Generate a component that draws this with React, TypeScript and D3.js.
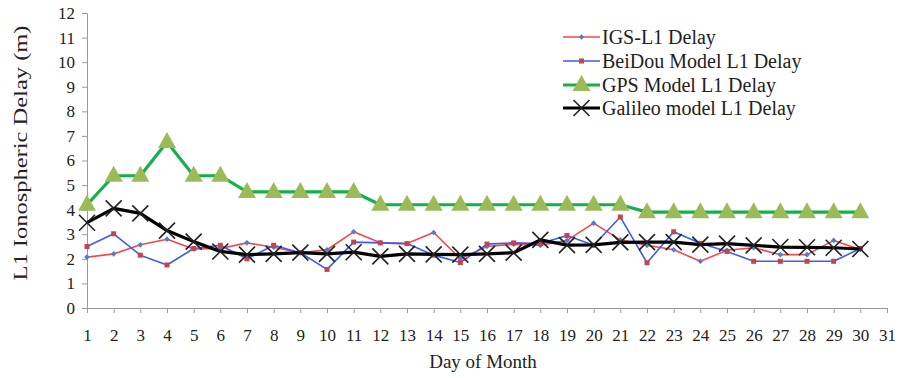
import React, { useRef, useEffect } from 'react'
import * as d3 from 'd3'

const days = [1, 2, 3, 4, 5, 6, 7, 8, 9, 10, 11, 12, 13, 14, 15, 16, 17, 18, 19, 20, 21, 22, 23, 24, 25, 26, 27, 28, 29, 30]
const xTicks = [1, 2, 3, 4, 5, 6, 7, 8, 9, 10, 11, 12, 13, 14, 15, 16, 17, 18, 19, 20, 21, 22, 23, 24, 25, 26, 27, 28, 29, 30, 31]
const yTicks = [0, 1, 2, 3, 4, 5, 6, 7, 8, 9, 10, 11, 12]

const igs = [2.07, 2.2, 2.57, 2.8, 2.4, 2.42, 2.65, 2.47, 2.25, 2.37, 3.1, 2.65, 2.62, 3.07, 2.0, 2.5, 2.6, 2.55, 2.75, 3.45, 2.77, 2.55, 2.37, 1.9, 2.35, 2.45, 2.17, 2.17, 2.75, 2.38]
const beidou = [2.5, 3.02, 2.15, 1.75, 2.42, 2.55, 2.0, 2.55, 2.25, 1.57, 2.68, 2.65, 2.62, 2.15, 1.85, 2.6, 2.65, 2.62, 2.95, 2.55, 3.7, 1.84, 3.1, 2.63, 2.3, 1.9, 1.9, 1.9, 1.9, 2.42]
const gps = [4.2, 5.38, 5.38, 6.75, 5.38, 5.38, 4.72, 4.72, 4.72, 4.72, 4.72, 4.2, 4.2, 4.2, 4.2, 4.2, 4.2, 4.2, 4.2, 4.2, 4.2, 3.9, 3.9, 3.9, 3.9, 3.9, 3.9, 3.9, 3.9, 3.9]
const galileo = [3.47, 4.05, 3.85, 3.15, 2.7, 2.3, 2.17, 2.2, 2.25, 2.2, 2.27, 2.1, 2.2, 2.18, 2.17, 2.2, 2.25, 2.77, 2.56, 2.57, 2.67, 2.68, 2.68, 2.58, 2.62, 2.55, 2.48, 2.47, 2.45, 2.4]

const seriesNames = ['IGS-L1 Delay', 'BeiDou Model L1 Delay', 'GPS Model L1 Delay', 'Galileo model L1 Delay']

const FONT = '"Liberation Serif", "Times New Roman", serif'

const App = () => {
    const svgRef = useRef<SVGSVGElement>(null)

    useEffect(() => {
        const svg = d3.select(svgRef.current)
        svg.selectAll('*').remove()

        const x = d3.scaleLinear().domain([1, 31]).range([87, 887])
        const y = d3.scaleLinear().domain([0, 12]).range([308, 13])

        const styles = [
            { values: igs, line: '#F2474B', width: 1.6, marker: 'dot' },
            { values: beidou, line: '#3D5CF0', width: 1.6, marker: 'square' },
            { values: gps, line: '#14B04A', width: 3.2, marker: 'triangle' },
            { values: galileo, line: '#000000', width: 3.2, marker: 'cross' },
        ]

        //axes
        const yAxis = svg.append('g')
            .attr('transform', 'translate(87,0)')
            .call(d3.axisLeft(y).tickValues(yTicks).tickSize(5).tickPadding(7))
        const xAxis = svg.append('g')
            .attr('transform', 'translate(0,308)')
            .call(d3.axisBottom(x).tickValues(xTicks).tickSize(5).tickPadding(16).tickFormat(d3.format('d')))
        ;[yAxis, xAxis].forEach((g) => {
            g.select('.domain').attr('stroke', '#9a9a9a')
            g.selectAll('.tick line').attr('stroke', '#9a9a9a')
            g.selectAll('text')
                .style('font-family', FONT)
                .style('font-size', '17px')
                .attr('fill', '#222')
        })

        const line = d3.line<number>()
            .x((d, i) => x(days[i]))
            .y((d) => y(d))

        const drawMarker = (g, kind, cx, cy) => {
            if (kind === 'dot') {
                g.append('rect').attr('x', cx - 2).attr('y', cy - 2).attr('width', 4).attr('height', 4)
                    .attr('fill', '#4F7FC8').attr('transform', `rotate(45 ${cx} ${cy})`)
            } else if (kind === 'square') {
                g.append('rect').attr('x', cx - 2.5).attr('y', cy - 2.5).attr('width', 5).attr('height', 5)
                    .attr('fill', '#C8424A')
            } else if (kind === 'triangle') {
                g.append('path')
                    .attr('d', `M${cx},${cy - 10} L${cx + 9},${cy + 6} L${cx - 9},${cy + 6} Z`)
                    .attr('fill', '#9BBB59')
            } else {
                const s = 8
                g.append('path')
                    .attr('d', `M${cx - s},${cy - s} L${cx + s},${cy + s} M${cx - s},${cy + s} L${cx + s},${cy - s}`)
                    .attr('stroke', '#222').attr('stroke-width', 1.6).attr('fill', 'none')
            }
        }

        //series
        styles.forEach((s) => {
            const g = svg.append('g')
            g.append('path')
                .datum(s.values)
                .attr('fill', 'none')
                .attr('stroke', s.line)
                .attr('stroke-width', s.width)
                .attr('stroke-linejoin', 'round')
                .attr('d', line)
            s.values.forEach((v, i) => drawMarker(g, s.marker, x(days[i]), y(v)))
        })

        //legend
        const legendY = [37, 61, 85, 108]
        styles.forEach((s, i) => {
            const g = svg.append('g')
            g.append('line')
                .attr('x1', 563).attr('x2', 600)
                .attr('y1', legendY[i]).attr('y2', legendY[i])
                .attr('stroke', s.line).attr('stroke-width', s.width)
            drawMarker(g, s.marker, 581.5, legendY[i])
            g.append('text')
                .attr('x', 602).attr('y', legendY[i] + 6.5)
                .style('font-family', FONT).style('font-size', '20px')
                .attr('fill', '#222')
                .text(seriesNames[i])
        })

        //axis titles
        svg.append('text')
            .attr('x', 483).attr('y', 368)
            .attr('text-anchor', 'middle')
            .style('font-family', FONT).style('font-size', '19px')
            .attr('fill', '#222')
            .text('Day of Month')

        svg.append('text')
            .attr('transform', 'translate(27,153) rotate(-90)')
            .attr('text-anchor', 'middle')
            .attr('textLength', 255)
            .attr('lengthAdjust', 'spacingAndGlyphs')
            .style('font-family', FONT).style('font-size', '19px')
            .attr('fill', '#222')
            .text('L1 Ionospheric Delay (m)')
    }, [])

    return (
        <svg
            ref={svgRef}
            width={898}
            height={378}
            style={{ position: 'absolute', left: 0, top: 0, background: '#fff' }}
        />
    )
}

export default App
